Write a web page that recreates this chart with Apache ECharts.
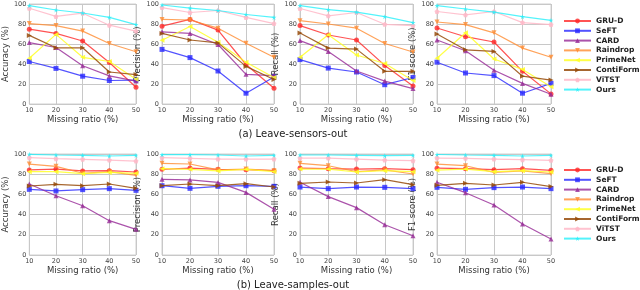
<!DOCTYPE html>
<html>
<head>
<meta charset="utf-8">
<script src="https://cdn.jsdelivr.net/npm/echarts@6/dist/echarts.min.js"></script>
<style>html,body{margin:0;padding:0;background:#fff;}#c{width:640px;height:290px;}</style>
</head>
<body>
<div id="c"></div>
<script>
const ratios = [10, 20, 30, 40, 50];
const yTicks = [0, 20, 40, 60, 80, 100];
const methods = ['GRU-D', 'SeFT', 'CARD', 'Raindrop', 'PrimeNet', 'ContiFormer', 'ViTST', 'Ours'];
const metricNames = ['Accuracy (%)', 'Precision (%)', 'Recall (%)', 'F1 score (%)'];
const captions = ['(a) Leave-sensors-out', '(b) Leave-samples-out'];

// (a) Leave-sensors-out: [Accuracy, Precision, Recall, F1]
const sensorsGRUD      = [[74.8,70.6,63,41.5,16.7],[77.8,84.6,73.9,39.5,15.7],[78.4,69,64,38.6,18],[76,67.3,62,32.7,10.1]];
const sensorsSeFT      = [[42.5,35.6,27.8,23.5,23.9],[54.6,46.4,33,10.8,27.1],[44.4,35.9,32,19.3,26.5],[41.8,31,28.4,10.8,20.6]];
const sensorsCARD      = [[61.4,56.5,38.2,28.1,22.9],[72.2,70.6,59.5,29.7,28.4],[63.4,52.6,33,22.9,15.4],[64,53.3,33.7,20.6,9.8]];
const sensorsRaindrop  = [[80.4,78.4,72.9,60.5,52.3],[84.6,84,75.8,60.8,46.7],[83.3,80,75.8,60.5,52],[82,79.4,71.2,55.9,46.7]];
const sensorsPrimeNet  = [[45.8,69.6,46.7,42.5,24.8],[63.7,77.5,61.8,41.8,26.5],[46.7,69.3,49,40.5,23.5],[45.8,71.2,45,34.6,17.3]];
const sensorsContiF    = [[68.6,56.2,56.2,32,29.4],[70.6,64,61.1,37.6,24.5],[71,55.9,54.9,32.7,32.7],[70,54.2,52.6,27.8,23.9]];
const sensorsViTST     = [[95.7,87.6,90.8,78.8,72.9],[96.4,91.5,93.5,86.6,80.4],[95.5,88.2,91.5,79.7,78.4],[92.5,89.2,92.5,81.4,79.4]];
const sensorsOurs      = [[98.4,94,91,86.6,79.4],[99,95.8,93.5,89.5,86.6],[98.4,94.4,91.8,87.3,81.4],[98.4,95,91.8,87.3,83.7]];

// (b) Leave-samples-out
const samplesGRUD      = [[84.2,85.1,83.2,83.5,82.2],[84.8,86.1,84.8,84.5,83.5],[86.1,85.5,85.1,85.5,84.5],[86,85.5,84.5,85.5,83.8]];
const samplesSeFT      = [[65,63.4,64.7,65.7,64],[68.6,66,68,68.6,68],[67.3,65.7,67.3,67,65.7],[67,65,66.7,67.3,65.7]];
const samplesCARD      = [[70.3,58.7,48.8,34,25.4],[74.9,74.3,71.9,62,45.2],[72,57.8,46.9,30,19.1],[72,61.7,49.5,30.7,15.8]];
const samplesRaindrop  = [[90,87.8,80.9,82.5,78.9],[90.8,90.1,84.2,85.1,83.5],[90.8,88.4,82.5,84.2,80.2],[90,88.4,81.8,83.2,80.5]];
const samplesPrimeNet  = [[82.5,82.5,80.5,81.8,80.9],[85.5,84.8,83.2,84.8,82.5],[85.1,85.1,82.2,83.5,82.5],[84,85.1,82.5,83.5,82.2]];
const samplesContiF    = [[68.3,70,68.6,70.3,66],[68.6,70.3,68.6,70.6,67.3],[71,72.3,71.3,74.6,69.6],[69,71,69.3,72,67.7]];
const samplesViTST     = [[96.4,95.4,94.7,94,93],[96.4,95.7,95,95,95],[96,96,95,94,93.4],[96,95.7,95,94.4,93.7]];
const samplesOurs      = [[99.7,99,98.7,98,98.7],[99.3,99.3,99,98,98.7],[99,99,98.7,98.3,98.7],[99.5,99,98.7,98,98.7]];

const rowsData = [
  [sensorsGRUD, sensorsSeFT, sensorsCARD, sensorsRaindrop, sensorsPrimeNet, sensorsContiF, sensorsViTST, sensorsOurs],
  [samplesGRUD, samplesSeFT, samplesCARD, samplesRaindrop, samplesPrimeNet, samplesContiF, samplesViTST, samplesOurs]
];

const colors = ['rgba(255,40,40,0.8)', 'rgba(40,40,255,0.8)', 'rgba(150,40,150,0.8)', 'rgba(255,140,50,0.8)',
                'rgba(255,255,40,0.85)', 'rgba(150,75,10,0.85)', 'rgba(255,185,200,0.85)', 'rgba(40,240,250,0.8)'];
const symbols = ['circle', 'rect', 'triangle',
  'path://M0,0 L10,0 L5,10 Z',
  'path://M10,0 L10,10 L0,5 Z',
  'path://M0,0 L10,5 L0,10 Z',
  'path://M5,0 L10,3.8 L8.1,10 L1.9,10 L0,3.8 Z',
  'path://M5,0 L6.2,3.8 L10,3.8 L6.9,6.1 L8.1,10 L5,7.6 L1.9,10 L3.1,6.1 L0,3.8 L3.8,3.8 Z'];

const FONT = 'DejaVu Sans';
const lefts = [23, 162, 300, 437];
const widths = [113, 112, 113, 114];
const tops = [4, 154];
const heights = [100, 101];

const grids = [], xAxes = [], yAxes = [], series = [];
for (let r = 0; r < 2; r++) {
  for (let p = 0; p < 4; p++) {
    const idx = r * 4 + p;
    grids.push({left: lefts[p], top: tops[r], width: widths[p], height: heights[r],
      show: true, borderColor: '#d0d0d0', borderWidth: 1, backgroundColor: 'transparent'});
    xAxes.push({type: 'value', gridIndex: idx, min: 10, max: 50, interval: 10,
      name: 'Missing ratio (%)', nameLocation: 'middle', nameGap: 10,
      nameTextStyle: {fontFamily: FONT, fontSize: 8.5, color: '#333'},
      axisLine: {show: false}, axisTick: {show: false},
      axisLabel: {fontFamily: FONT, fontSize: 6.5, color: '#444', margin: 3},
      splitLine: {show: true, lineStyle: {color: '#c8c8c8', width: 1}}});
    yAxes.push({type: 'value', gridIndex: idx, min: 0, max: 100, interval: 20,
      name: metricNames[p], nameLocation: 'middle', nameGap: 17,
      nameTextStyle: {fontFamily: FONT, fontSize: 8.5, color: '#333'},
      axisLine: {show: false}, axisTick: {show: false},
      axisLabel: {fontFamily: FONT, fontSize: 6.5, color: '#444', margin: 3},
      splitLine: {show: true, lineStyle: {color: '#c8c8c8', width: 1}}});
    for (let m = 0; m < methods.length; m++) {
      series.push({type: 'line', name: methods[m], xAxisIndex: idx, yAxisIndex: idx,
        data: ratios.map((x, i) => [x, rowsData[r][m][p][i]]),
        symbol: symbols[m], symbolSize: 5, showAllSymbol: true,
        lineStyle: {color: colors[m], width: 1.2},
        itemStyle: {color: colors[m]}, color: colors[m],
        animation: false, z: 2 + m});
    }
  }
}

const legendBase = {orient: 'vertical', left: 558, itemWidth: 27, itemHeight: 6, itemGap: 1.8,
  textStyle: {fontFamily: FONT, fontSize: 7.5, fontWeight: 'bold', color: '#222'},
  data: methods, selectedMode: false};

const chart = echarts.init(document.getElementById('c'), null, {renderer: 'canvas'});
chart.setOption({
  animation: false,
  grid: grids, xAxis: xAxes, yAxis: yAxes, series: series,
  legend: [Object.assign({top: 12}, legendBase), Object.assign({top: 161}, legendBase)],
  title: [
    {text: captions[0], left: 288, top: 124, textAlign: 'center', textStyle: {fontFamily: FONT, fontSize: 10, fontWeight: 'normal', color: '#222'}},
    {text: captions[1], left: 288, top: 275, textAlign: 'center', textStyle: {fontFamily: FONT, fontSize: 10, fontWeight: 'normal', color: '#222'}}
  ]
});
</script>
</body>
</html>
